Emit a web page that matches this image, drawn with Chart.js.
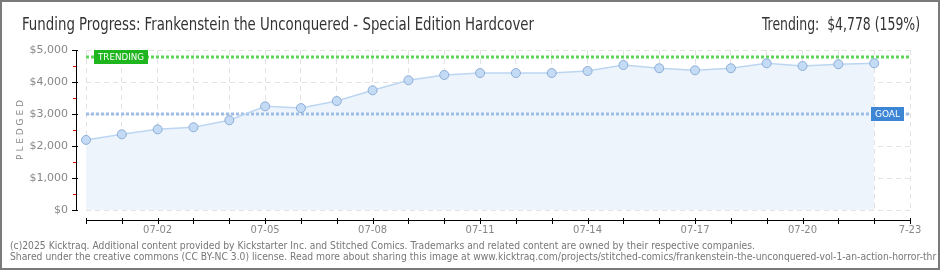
<!DOCTYPE html>
<html>
<head>
<meta charset="utf-8">
<script src="https://cdn.jsdelivr.net/npm/chart.js@4/dist/chart.umd.min.js"></script>
<style>
    html, body { margin: 0; padding: 0; background: #fff; }
    #wrap { width: 940px; height: 270px; }
</style>
</head>
<body>
<div id="wrap"><canvas id="funding" width="940" height="270"></canvas></div>
<script>
const dates = [
    "06-30", "07-01", "07-02", "07-03", "07-04", "07-05", "07-06", "07-07",
    "07-08", "07-09", "07-10", "07-11", "07-12", "07-13", "07-14", "07-15",
    "07-16", "07-17", "07-18", "07-19", "07-20", "07-21", "07-22", "07-23",
];
const pledged = [
    2190, 2365, 2520, 2585, 2805, 3240, 3185, 3405,
    3740, 4055, 4220, 4280, 4280, 4280, 4345, 4530,
    4430, 4365, 4430, 4585, 4500, 4555, 4585,
];
const yTicks = [0, 1000, 2000, 3000, 4000, 5000];
const goal = 3000;
const trending = 4778;

const colors = {
    line: "#bcd6f2",
    fill: "#edf4fc",
    point: "#c4dbf5",
    pointBorder: "#8eaed6",
    trend: "#5fd35a",
    trendBox: "#1fb51f",
    goal: "#9dbde6",
    goalBox: "#3d86d6",
    grid: "#e2e2e2",
    tick: "#888",
    text: "#333",
    footer: "#777",
};

const fontMain = "'Liberation Sans Narrow', 'DejaVu Sans Condensed', sans-serif";
const fontSmall = "'DejaVu Sans', sans-serif";

function refLine(value, color) {
    return {
        data: [{ x: dates[0], y: value }, { x: dates[dates.length - 1], y: value }],
        borderColor: color,
        borderWidth: 3,
        borderDash: [3, 2],
        pointRadius: 0,
        fill: false,
        order: 1,
    };
}

function drawTag(ctx, text, x, y, w, bg) {
    ctx.fillStyle = bg;
    ctx.fillRect(x, y - 7, w, 14);
    ctx.fillStyle = "#fff";
    ctx.font = "9px " + fontSmall;
    ctx.textAlign = "left";
    ctx.textBaseline = "middle";
    ctx.fillText(text, x + 4, y + 0.5, w - 8);
}

const decorations = {
    id: "decorations",
    beforeDraw(chart) {
        const ctx = chart.ctx;
        ctx.save();
        ctx.fillStyle = "#fff";
        ctx.fillRect(0, 0, chart.width, chart.height);
        ctx.restore();
    },
    afterDraw(chart) {
        const ctx = chart.ctx;
        const x = chart.scales.x;
        const y = chart.scales.y;
        const area = chart.chartArea;
        ctx.save();

        // y axis with major and red minor ticks
        ctx.strokeStyle = "#000";
        ctx.lineWidth = 1;
        ctx.beginPath();
        ctx.moveTo(76.5, area.top);
        ctx.lineTo(76.5, area.bottom);
        yTicks.forEach(v => {
            const py = Math.round(y.getPixelForValue(v)) + 0.5;
            ctx.moveTo(72, py);
            ctx.lineTo(78, py);
        });
        ctx.stroke();
        ctx.strokeStyle = "#e00";
        ctx.beginPath();
        yTicks.slice(1).forEach(v => {
            const py = Math.round(y.getPixelForValue(v - 500)) + 0.5;
            ctx.moveTo(73, py);
            ctx.lineTo(76, py);
        });
        ctx.stroke();

        // x axis, a little below the plot
        ctx.strokeStyle = "#000";
        ctx.beginPath();
        ctx.moveTo(area.left, 220.5);
        ctx.lineTo(area.right, 220.5);
        dates.forEach((d, i) => {
            const px = Math.round(x.getPixelForValue(i)) + 0.5;
            ctx.moveTo(px, 218);
            ctx.lineTo(px, 224);
        });
        ctx.stroke();

        // tags on the reference lines
        drawTag(ctx, "TRENDING", area.left + 8, Math.round(y.getPixelForValue(trending)), 54, colors.trendBox);
        drawTag(ctx, "GOAL", area.right - 39, Math.round(y.getPixelForValue(goal)), 33, colors.goalBox);

        // y axis title
        ctx.save();
        ctx.translate(21, (area.top + area.bottom) / 2);
        ctx.rotate(-Math.PI / 2);
        ctx.fillStyle = colors.tick;
        ctx.font = "9px " + fontSmall;
        ctx.textAlign = "center";
        ctx.textBaseline = "middle";
        ctx.fillText("P L E D G E D", 0, 0);
        ctx.restore();

        // header
        ctx.fillStyle = colors.text;
        ctx.font = "17px " + fontMain;
        ctx.textBaseline = "alphabetic";
        ctx.textAlign = "left";
        ctx.fillText("Funding Progress: Frankenstein the Unconquered - Special Edition Hardcover", 22, 30, 512);
        ctx.textAlign = "right";
        ctx.fillText("Trending:  $4,778 (159%)", 920, 30, 158);

        // footer
        const line1 = "(c)2025 Kicktraq. Additional content provided by Kickstarter Inc. and Stitched Comics. Trademarks and related content are owned by their respective companies.";
        const line2 = "Shared under the creative commons (CC BY-NC 3.0) license. Read more about sharing this image at www.kicktraq.com/projects/stitched-comics/frankenstein-the-unconquered-vol-1-an-action-horror-thriller/";
        ctx.font = "10px " + fontSmall;
        ctx.fillStyle = colors.footer;
        ctx.textAlign = "left";
        ctx.textBaseline = "middle";
        const sx = 745 / ctx.measureText(line1).width;
        ctx.save();
        ctx.beginPath();
        ctx.rect(0, 230, 937, 40);
        ctx.clip();
        ctx.scale(sx, 1);
        ctx.fillText(line1, 10 / sx, 246);
        ctx.fillText(line2, 10 / sx, 257);
        ctx.restore();

        // frame
        ctx.strokeStyle = "#7a7a7a";
        ctx.lineWidth = 2;
        ctx.strokeRect(1, 1, chart.width - 2, chart.height - 2);
        ctx.restore();
    },
};

new Chart(document.getElementById("funding"), {
    type: "line",
    data: {
        labels: dates,
        datasets: [
            {
                data: pledged,
                borderColor: colors.line,
                borderWidth: 1.5,
                backgroundColor: colors.fill,
                fill: "origin",
                tension: 0,
                pointRadius: 4.5,
                pointBackgroundColor: colors.point,
                pointBorderColor: colors.pointBorder,
                pointBorderWidth: 1,
                order: 0,
            },
            refLine(trending, colors.trend),
            refLine(goal, colors.goal),
        ],
    },
    options: {
        responsive: false,
        animation: false,
        events: [],
        layout: {
            padding: { left: 0, top: 50, right: 30, bottom: 0 },
        },
        scales: {
            x: {
                type: "category",
                offset: false,
                afterFit: s => { s.height = 60; },
                grid: {
                    color: colors.grid,
                    drawTicks: false,
                },
                border: { display: false, dash: [5, 4] },
                ticks: {
                    autoSkip: false,
                    maxRotation: 0,
                    padding: 14,
                    color: colors.tick,
                    font: { family: fontSmall, size: 10 },
                    callback: (v, i) => {
                        if (i % 3 !== 2) return "";
                        return i === dates.length - 1 ? dates[i].slice(1) : dates[i];
                    },
                },
            },
            y: {
                min: 0,
                max: 5000,
                afterFit: s => { s.width = 86; },
                grid: {
                    color: colors.grid,
                    drawTicks: false,
                },
                border: { display: false, dash: [5, 4] },
                ticks: {
                    stepSize: 1000,
                    padding: 18,
                    color: colors.tick,
                    font: { family: fontSmall, size: 11 },
                    callback: v => "$" + v.toLocaleString("en-US"),
                },
            },
        },
        plugins: {
            legend: { display: false },
            tooltip: { enabled: false },
            filler: { drawTime: "beforeDatasetsDraw" },
        },
    },
    plugins: [decorations],
});
</script>
</body>
</html>
